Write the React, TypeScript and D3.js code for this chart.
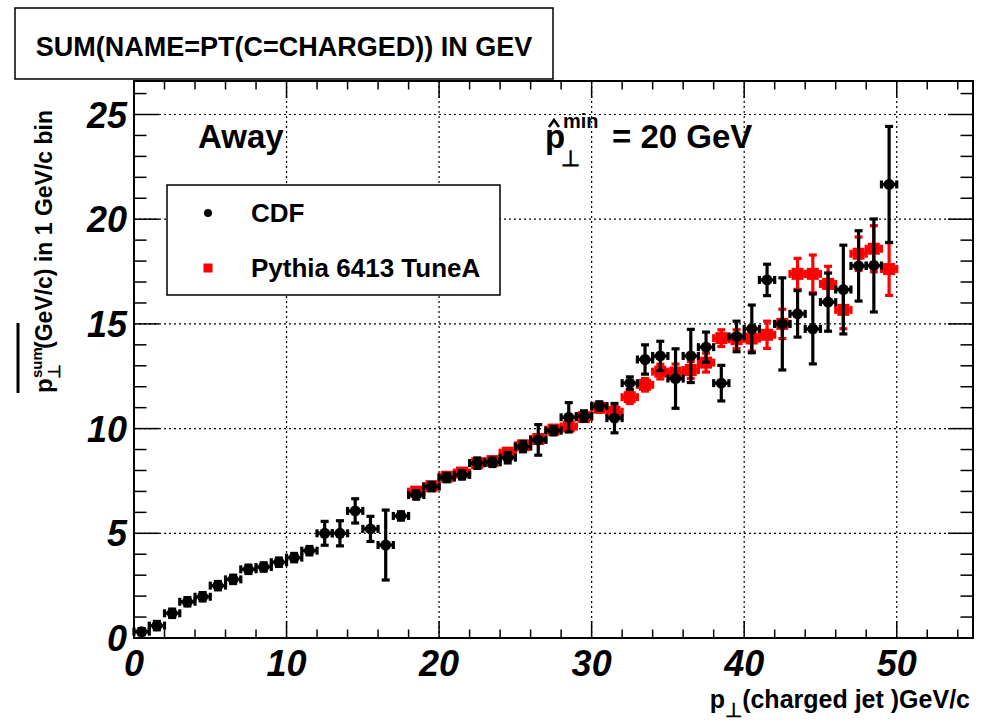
import React from "react";
import * as d3 from "d3";

// ---------- data ----------
const cdfX = [0.5, 1.5, 2.5, 3.5, 4.5, 5.5, 6.5, 7.5, 8.5, 9.5, 10.5, 11.5, 12.5, 13.5, 14.5, 15.5, 16.5, 17.5, 18.5, 19.5, 20.5, 21.5, 22.5, 23.5, 24.5, 25.5, 26.5, 27.5, 28.5, 29.5, 30.5, 31.5, 32.5, 33.5, 34.5, 35.5, 36.5, 37.5, 38.5, 39.5, 40.5, 41.5, 42.5, 43.5, 44.5, 45.5, 46.5, 47.5, 48.5, 49.5];
const cdfY = [0.30, 0.59, 1.18, 1.73, 1.97, 2.50, 2.80, 3.28, 3.39, 3.62, 3.84, 4.17, 5.00, 5.00, 6.07, 5.21, 4.44, 5.83, 6.83, 7.23, 7.66, 7.79, 8.35, 8.39, 8.61, 9.14, 9.46, 9.90, 10.54, 10.60, 11.08, 10.50, 12.17, 13.30, 13.47, 12.39, 13.47, 13.89, 12.17, 14.40, 14.76, 17.10, 15.00, 15.48, 14.76, 16.04, 16.64, 17.77, 17.79, 21.66];
const cdfErr = [0.15, 0.2, 0.2, 0.2, 0.2, 0.2, 0.2, 0.2, 0.2, 0.2, 0.2, 0.2, 0.57, 0.6, 0.58, 0.6, 1.67, 0.2, 0.2, 0.2, 0.2, 0.2, 0.25, 0.2, 0.25, 0.25, 0.73, 0.2, 0.7, 0.25, 0.2, 0.7, 0.3, 0.7, 0.7, 1.42, 1.27, 0.72, 0.85, 0.73, 1.14, 0.75, 2.2, 1.11, 1.67, 1.39, 2.12, 1.68, 2.22, 2.77];

const pyX = [18.5, 19.5, 20.5, 21.5, 22.5, 23.5, 24.5, 25.5, 26.5, 27.5, 28.5, 29.5, 30.5, 31.5, 32.5, 33.5, 34.5, 35.5, 36.5, 37.5, 38.5, 39.5, 40.5, 41.5, 42.5, 43.5, 44.5, 45.5, 46.5, 47.5, 48.5, 49.5];
const pyY = [6.99, 7.25, 7.70, 7.90, 8.35, 8.45, 8.85, 9.20, 9.50, 9.95, 10.10, 10.55, 11.00, 10.80, 11.50, 12.09, 12.72, 12.68, 12.80, 13.15, 14.32, 14.27, 14.30, 14.48, 15.00, 17.39, 17.39, 16.91, 15.67, 18.35, 18.59, 17.62];
const pyErr = [0.15, 0.15, 0.15, 0.15, 0.15, 0.15, 0.15, 0.18, 0.18, 0.2, 0.2, 0.2, 0.22, 0.25, 0.3, 0.3, 0.35, 0.4, 0.4, 0.45, 0.4, 0.45, 0.6, 0.65, 0.7, 0.74, 0.9, 0.84, 0.9, 0.8, 1.1, 1.26];

const binHalf = 0.5;
const xMajorTicks = [0, 10, 20, 30, 40, 50];
const yMajorTicks = [0, 5, 10, 15, 20, 25];

const titleText = "SUM(NAME=PT(C=CHARGED)) IN GEV";
const legendLabels = ["CDF", "Pythia 6413 TuneA"];

// ---------- layout ----------
const W = 987, H = 728;
const L = 134, R = 973, T = 81, B = 638;
const FONT = "'Liberation Sans', Arial, Helvetica, sans-serif";

const x = d3.scaleLinear().domain([0, 55]).range([L, R]);
const y = d3.scaleLinear().domain([0, 26.6]).range([B, T]);

function ErrPt({ xv, yv, ev, color, lw, cap }: any) {
  const cx = x(xv), cy = y(yv);
  const xl = x(xv - binHalf), xr = x(xv + binHalf);
  const yt = y(yv + ev), yb = y(yv - ev);
  return (
    <g stroke={color} strokeWidth={lw} fill="none">
      <line x1={xl} x2={xr} y1={cy} y2={cy} />
      <line x1={xl} x2={xl} y1={cy - cap} y2={cy + cap} />
      <line x1={xr} x2={xr} y1={cy - cap} y2={cy + cap} />
      <line x1={cx} x2={cx} y1={yt} y2={yb} />
      <line x1={cx - cap} x2={cx + cap} y1={yt} y2={yt} />
      <line x1={cx - cap} x2={cx + cap} y1={yb} y2={yb} />
    </g>
  );
}

export default function App() {
  const xMinor = d3.range(0, 55.01, 2);
  const yMinor = d3.range(0, 26.6, 1);
  const majTx = 17, minTx = 8.5, majTy = 25, minTy = 12.5;
  return (
    <svg width={W} height={H} style={{ position: "absolute", left: 0, top: 0, background: "#fff" }} fontFamily={FONT}>
      <rect x={0} y={0} width={W} height={H} fill="#fff" />
      {/* grid */}
      <g stroke="#000" strokeWidth={1.2} strokeDasharray="2,3">
        {xMajorTicks.filter(t => t > 0).map(t => (
          <line key={"gx" + t} x1={x(t)} x2={x(t)} y1={T} y2={B} />
        ))}
        {yMajorTicks.filter(t => t > 0).map(t => (
          <line key={"gy" + t} x1={L} x2={R} y1={y(t)} y2={y(t)} />
        ))}
      </g>
      {/* ticks */}
      <g stroke="#000" strokeWidth={1.5}>
        {xMinor.map(t => {
          const len = t % 10 === 0 ? majTx : minTx;
          return (
            <g key={"tx" + t}>
              <line x1={x(t)} x2={x(t)} y1={B} y2={B - len} />
              <line x1={x(t)} x2={x(t)} y1={T} y2={T + len} />
            </g>
          );
        })}
        {yMinor.map(t => {
          const len = t % 5 === 0 ? majTy : minTy;
          return (
            <g key={"ty" + t}>
              <line x1={L} x2={L + len} y1={y(t)} y2={y(t)} />
              <line x1={R} x2={R - len} y1={y(t)} y2={y(t)} />
            </g>
          );
        })}
      </g>
      {/* frame */}
      <rect x={L} y={T} width={R - L} height={B - T} fill="none" stroke="#000" strokeWidth={2} />

      {/* data: pythia */}
      {pyX.map((xv, i) => (
        <ErrPt key={"pe" + i} xv={xv} yv={pyY[i]} ev={pyErr[i]} color="#ff0000" lw={3.2} cap={4} />
      ))}
      {pyX.map((xv, i) => (
        <rect key={"pm" + i} x={x(xv) - 6} y={y(pyY[i]) - 6} width={12} height={12} fill="#ff0000" />
      ))}
      {/* data: CDF */}
      {cdfX.map((xv, i) => (
        <ErrPt key={"ce" + i} xv={xv} yv={cdfY[i]} ev={cdfErr[i]} color="#000" lw={3.2} cap={4} />
      ))}
      {cdfX.map((xv, i) => (
        <circle key={"cm" + i} cx={x(xv)} cy={y(cdfY[i])} r={5.5} fill="#000" />
      ))}

      {/* tick labels */}
      <g fontWeight="bold" fontStyle="italic" fontSize={36} fill="#000">
        {xMajorTicks.map(t => (
          <text key={"xl" + t} x={x(t)} y={676} textAnchor="middle">{t}</text>
        ))}
        {yMajorTicks.map(t => (
          <text key={"yl" + t} x={127} y={y(t) + 13} textAnchor="end">{t}</text>
        ))}
      </g>

      {/* x-axis title */}
      <text x={970} y={708} textAnchor="end" fontWeight="bold" fontSize={25} fill="#000">
        p<tspan dy={9} fontSize={20}>⊥</tspan><tspan dy={-9}>(charged jet )GeV/c</tspan>
      </text>

      {/* y-axis title */}
      <g transform="translate(52,393) rotate(-90)" fontWeight="bold" fill="#000">
        <text x={0} y={0} fontSize={24}>p</text>
        <text x={15} y={-10} fontSize={15}>sum</text>
        <text x={14} y={8} fontSize={17}>⊥</text>
        <text x={44} y={0} fontSize={23}>(GeV/c) in 1 GeV/c bin</text>
        <line x1={0} x2={70} y1={-34} y2={-34} stroke="#000" strokeWidth={3} />
      </g>

      {/* annotations */}
      <text x={198} y={148} fontWeight="bold" fontSize={33} fill="#000">Away</text>
      <g fontWeight="bold" fill="#000">
        <text x={545} y={148} fontSize={33}>p</text>
        <polyline points="549,127 554,120 559,127" fill="none" stroke="#000" strokeWidth={2.5} />
        <text x={563} y={128} fontSize={20}>min</text>
        <text x={561} y={166} fontSize={22}>⊥</text>
        <text x={612} y={148} fontSize={33}>= 20 GeV</text>
      </g>

      {/* legend */}
      <rect x={167} y={185} width={333} height={110} fill="#fff" stroke="#000" strokeWidth={1.5} />
      <circle cx={208} cy={213} r={4} fill="#000" />
      <rect x={203.5} y={263.5} width={9} height={9} fill="#ff0000" />
      <g fontWeight="bold" fontSize={26} fill="#000">
        <text x={251} y={222}>{legendLabels[0]}</text>
        <text x={251} y={277}>{legendLabels[1]}</text>
      </g>

      {/* title box */}
      <rect x={15} y={8} width={538} height={71} fill="#fff" stroke="#000" strokeWidth={1.5} />
      <text x={284} y={56} textAnchor="middle" fontWeight="bold" fontSize={27} fill="#000">{titleText}</text>
    </svg>
  );
}
